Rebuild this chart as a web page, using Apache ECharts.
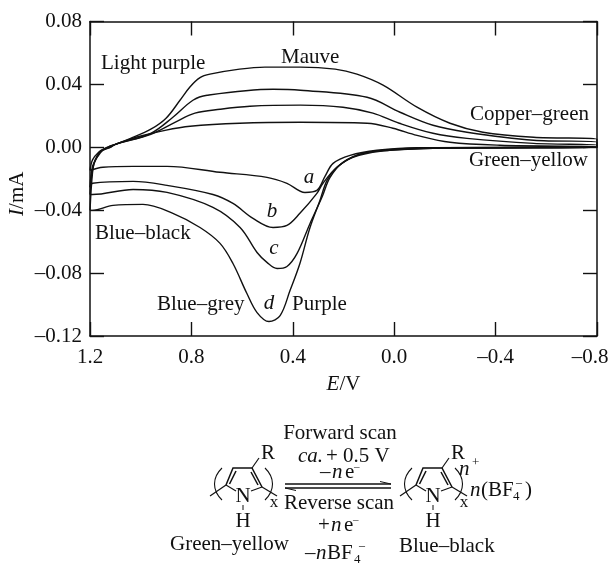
<!DOCTYPE html>
<html><head><meta charset="utf-8">
<style>html,body{margin:0;padding:0;background:#fff}#c{width:612px;height:564px}</style>
<script src="https://cdn.jsdelivr.net/npm/echarts@6/dist/echarts.min.js"></script>
</head><body><div id="c"></div>
<script>
const xRange = [-0.8, 1.2];
const yRange = [-0.12, 0.08];
const curveA = [[1.2,-.0147],[1.19,-.008],[1.165,-.003],[1.14,-.0005],[1.1,.0019],[1.003,.007],[.904,.0108],[.805,.0134],[.61,.0153],[.37,.0159],[.107,.0153],[.005,.0121],[-.09,.0076],[-.22,.0032],[-.417,.0013],[-.8,.0003],[-.8,0],[-.2,-.0003],[-.09,-.0003],[.068,-.0019],[.174,-.0051],[.241,-.0102],[.273,-.0185],[.305,-.0274],[.352,-.0287],[.423,-.0229],[.502,-.0191],[.687,-.0159],[.896,-.0121],[1.03,-.0121],[1.149,-.0127],[1.2,-.0147]];
const curveB = [[1.2,-.0255],[1.19,-.012],[1.17,-.006],[1.15,-.002],[1.12,0],[1.1,.0019],[.96,.0083],[.865,.0159],[.786,.0217],[.687,.0242],[.569,.0261],[.37,.0268],[.202,.0255],[.084,.0217],[-.02,.0153],[-.153,.0089],[-.287,.0057],[-.55,.0025],[-.8,.0013],[-.8,0],[-.153,-.0003],[.044,-.0019],[.147,-.0051],[.226,-.0127],[.281,-.0229],[.305,-.0293],[.372,-.042],[.423,-.0497],[.478,-.051],[.557,-.0452],[.636,-.0357],[.715,-.03],[.896,-.0242],[1.03,-.0217],[1.19,-.0229],[1.2,-.0255]];
const curveC = [[1.2,-.03],[1.19,-.014],[1.175,-.007],[1.155,-.002],[1.12,0],[1.1,.0019],[.96,.0089],[.873,.0191],[.794,.0299],[.738,.0331],[.478,.0369],[.37,.0363],[.107,.0318],[-.023,.0223],[-.153,.014],[-.287,.0096],[-.55,.0045],[-.8,.0032],[-.8,0],[-.153,-.0006],[.017,-.0019],[.123,-.0038],[.202,-.0096],[.253,-.0191],[.285,-.0318],[.332,-.0484],[.383,-.0675],[.423,-.0758],[.462,-.0771],[.502,-.0732],[.541,-.0669],[.608,-.051],[.715,-.0382],[.896,-.0287],[1.03,-.0268],[1.19,-.03],[1.2,-.03]];
const curveD = [[1.2,-.0401],[1.19,-.016],[1.18,-.008],[1.16,-.003],[1.13,0],[1.1,.0019],[1.04,.0057],[.96,.0115],[.9,.0185],[.845,.0299],[.805,.0385],[.766,.0443],[.727,.0465],[.61,.0497],[.51,.051],[.37,.051],[.233,.0497],[.147,.0465],[.044,.0395],[-.09,.0255],[-.22,.0153],[-.35,.0096],[-.55,.0064],[-.8,.0051],[-.8,0],[-.153,-.0006],[.056,-.0025],[.163,-.0064],[.226,-.0127],[.265,-.021],[.293,-.0338],[.333,-.0515],[.372,-.0739],[.411,-.0911],[.45,-.107],[.494,-.1108],[.541,-.1051],[.581,-.093],[.636,-.0739],[.687,-.0611],[.766,-.051],[.873,-.042],[.991,-.0363],[1.109,-.0369],[1.19,-.0401],[1.2,-.0401]];
const curves = [curveA, curveB, curveC, curveD];
const chartLabels = [["Light purple",101,63],["Mauve",281,57],["Copper–green",470,114],["Green–yellow",469,160],["Blue–black",95,233],["Blue–grey",157,304],["Purple",292,304]];
const curveLetters = [["a",309,177],["b",272,211],["c",274,248],["d",269,303]];

const INK = '#111';
const FONT = '"Liberation Serif","Times New Roman",serif';
const IT = `italic 21px ${FONT}`;
const fmtX = v => {
  const s = (v < 0 ? '–' : '') + Math.abs(v).toFixed(1);
  return v <= xRange[0] ? `{end|${s}}` : s;
};
const fmtY = v => (v < 0 ? '–' : '') + Math.abs(v).toFixed(2);
const txt = (t, x, y, o = {}) => ({ type: 'text', x, y, silent: true, style: { text: t, font: o.font || `${o.size || 21}px ${FONT}`, fill: INK, textAlign: o.align || 'left', textVerticalAlign: 'middle' } });
const ln = (pts, w = 1.5) => ({ type: 'polyline', silent: true, shape: { points: pts }, style: { stroke: INK, lineWidth: w, fill: null } });
const paren = (x, y1, y2, bulge) => ({ type: 'bezierCurve', silent: true, shape: { x1: x, y1, x2: x, y2, cpx1: x + bulge, cpy1: y1 + (y2 - y1) * .3, cpx2: x + bulge, cpy2: y1 + (y2 - y1) * .7 }, style: { stroke: INK, lineWidth: 1.1, fill: null } });
function pyrrole(dx) {
  const L = 226 + dx, TL = 233 + dx, TR = 252 + dx, Rt = 262 + dx, N = 243 + dx;
  return [
    ln([[L, 485], [TL, 468], [TR, 468], [Rt, 487]]),
    ln([[L + 3.5, 484], [TL + 3, 471]], 1.5), ln([[TR - 1, 472], [Rt - 4, 485]], 1.5),
    ln([[L, 485], [N - 7, 491]], 1.1), ln([[Rt, 487], [N + 8, 491]], 1.1),
    ln([[N, 505], [N, 510]], 1), ln([[TR, 468], [TR + 7, 458]], 1.2),
    ln([[L, 485], [L - 16, 496]], 1.2), ln([[Rt, 487], [Rt + 15, 496]], 1.2),
    paren(222 + dx, 468, 500, -10), paren(265 + dx, 468, 500, 10),
    txt('N', N, 496, { align: 'center' }), txt('H', N, 521, { align: 'center' }),
    txt('R', TR + 16, 453, { align: 'center' }), txt('x', 274 + dx, 503, { align: 'center', size: 17 })
  ];
}
const graphic = [
  ...chartLabels.map(l => txt(l[0], l[1], l[2])),
  ...curveLetters.map(l => txt(l[0], l[1], l[2], { font: IT, align: 'center' })),
  ...pyrrole(0), ...pyrrole(190),
  ln([[285, 484], [391, 484]]), ln([[285, 488], [391, 488]]),
  ln([[380, 481.5], [391, 484]], 1), ln([[285, 488], [296, 490.5]], 1),
  txt('Forward scan', 340, 433, { align: 'center' }),
  txt('ca.', 298, 456, { font: IT }), txt('+ 0.5 V', 326, 456),
  txt('–', 320, 472), txt('n', 332, 472, { font: IT }), txt('e', 345, 472), txt('–', 354, 467, { size: 11 }),
  txt('Reverse scan', 339, 503, { align: 'center' }),
  txt('+', 318, 525), txt('n', 331, 525, { font: IT }), txt('e', 344, 525), txt('–', 353, 520, { size: 11 }),
  txt('–', 305, 553), txt('n', 316, 553, { font: IT }), txt('BF', 327, 553), txt('4', 354, 560, { size: 13 }), txt('–', 359, 546, { size: 12 }),
  txt('Green–yellow', 170, 544), txt('Blue–black', 399, 546),
  txt('n', 459, 469, { font: IT }), txt('+', 472, 463, { size: 13 }),
  txt('n', 470, 490, { font: IT }), txt('(BF', 481, 490), txt('4', 513, 497, { size: 13 }), txt('–', 516, 483, { size: 12 }), txt(')', 525, 490)
];
const tick = { show: true, inside: true, length: 14, lineStyle: { color: INK, width: 1.4 } };
const axLine = { show: true, onZero: false, lineStyle: { color: INK, width: 1.5 } };
const lab = { color: INK, fontFamily: FONT, fontSize: 21 };
const chart = echarts.init(document.getElementById('c'), null, { renderer: 'canvas' });
chart.setOption({
  animation: false, backgroundColor: '#fff',
  grid: { left: 90, right: 15, top: 21.5, bottom: 228, outerBoundsMode: 'none', containLabel: false },
  xAxis: [
    { type: 'value', inverse: true, min: xRange[0], max: xRange[1], interval: .4, position: 'bottom', axisLine: axLine, axisTick: tick, splitLine: { show: false },
      axisLabel: Object.assign({ formatter: fmtX, margin: 11, hideOverlap: false, showMinLabel: true, showMaxLabel: true, rich: { end: { fontFamily: FONT, fontSize: 21, color: INK, padding: [0, 14, 0, 0] } } }, lab),
      name: '{i|E}{r|/V}', nameLocation: 'middle', nameGap: 38, nameMoveOverlap: false, nameTextStyle: { rich: { i: { fontFamily: FONT, fontStyle: 'italic', fontSize: 21, color: INK }, r: { fontFamily: FONT, fontSize: 21, color: INK } } } },
    { type: 'value', inverse: true, min: xRange[0], max: xRange[1], interval: .4, position: 'top', axisLine: axLine, axisTick: tick, axisLabel: { show: false }, splitLine: { show: false } }
  ],
  yAxis: [
    { type: 'value', min: yRange[0], max: yRange[1], interval: .04, position: 'left', axisLine: axLine, axisTick: tick, splitLine: { show: false },
      axisLabel: Object.assign({ formatter: fmtY, margin: 8 }, lab),
      name: '{i|I}{r|/mA}', nameLocation: 'middle', nameGap: 62, nameMoveOverlap: false, nameTextStyle: { padding: [0, 30, 0, 0], rich: { i: { fontFamily: FONT, fontStyle: 'italic', fontSize: 21, color: INK }, r: { fontFamily: FONT, fontSize: 21, color: INK } } } },
    { type: 'value', min: yRange[0], max: yRange[1], interval: .04, position: 'right', axisLine: axLine, axisTick: tick, axisLabel: { show: false }, splitLine: { show: false } }
  ],
  series: curves.map(d => ({ type: 'line', data: d, showSymbol: false, smooth: .35, clip: true, silent: true, lineStyle: { color: INK, width: 1.4 } })),
  graphic
});
</script></body></html>
